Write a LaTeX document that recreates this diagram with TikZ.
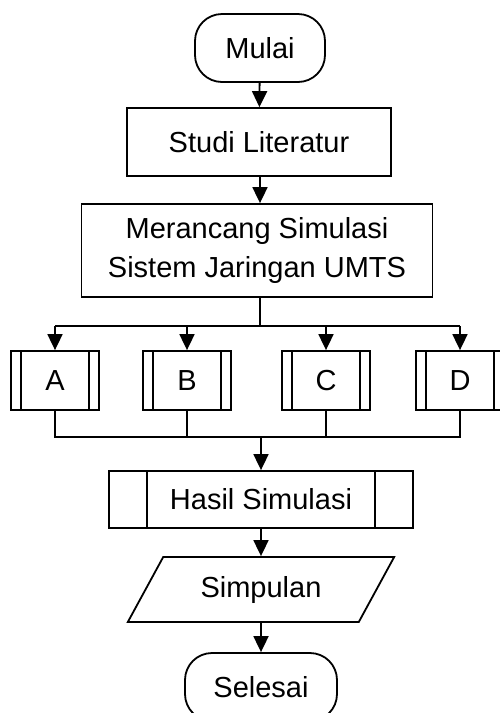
\documentclass[tikz,border=0pt]{standalone}
\usepackage{fontspec}
\setmainfont{Liberation Sans}
\usetikzlibrary{arrows.meta,shapes.geometric}
\begin{document}
\begin{tikzpicture}[x=1pt,y=-1pt,line width=1.8pt,
	every node/.style={font=\fontsize{29}{39}\selectfont,inner sep=0pt},
	terminal/.style={draw,rounded corners=27pt,minimum height=68pt},
	proses/.style={draw,align=center},
	subproses/.style={draw,path picture={
		\draw[line width=1.8pt] ([xshift=#1]path picture bounding box.north west)--([xshift=#1]path picture bounding box.south west)
			([xshift=-#1]path picture bounding box.north east)--([xshift=-#1]path picture bounding box.south east);}},
	panah/.style={-{Triangle[length=16pt,width=15pt]}}]
			\useasboundingbox (0,0) rectangle (500,713);
			\node[terminal,minimum width=130pt] (mulai) at (260,48) {Mulai};
			\node[proses,minimum width=264pt,minimum height=68pt] (studi) at (259,142) {Studi Literatur};
			\node[proses,minimum width=351pt,minimum height=93pt] (rancang) at (257,250.5) {Merancang Simulasi\\Sistem Jaringan UMTS};
			\foreach \n/\x/\t in {a/55/A,b/187/B,c/326/C,d/460/D}
				\node[subproses=10pt,minimum width=88pt,minimum height=59pt] (\n) at (\x,380.5) {\t};
			\node[subproses=38pt,minimum width=304pt,minimum height=57pt] (hasil) at (261,499.5) {Hasil Simulasi};
			\node[trapezium,trapezium left angle=51,trapezium right angle=129,trapezium stretches=true,draw,minimum width=267pt,minimum height=65pt] (simpulan) at (261,589.5) {Simpulan};
			\node[terminal,minimum width=152pt] (selesai) at (261,687) {Selesai};
			\coordinate (cabang) at (260,326);
			\coordinate (gabung) at (261,437);
			\draw[panah] (mulai) -- (studi);
			\draw[panah] (studi.south -| mulai) -- (rancang.north -| mulai);
			\draw (rancang.south -| cabang) -- (cabang);
			\draw (a.north |- cabang) -- (d.north |- cabang);
			\foreach \n in {a,b,c,d}
				\draw[panah] (\n.north |- cabang) -- (\n);
			\draw (a.south) -- (a.south |- gabung) -- (d.south |- gabung) -- (d.south);
			\draw (b.south) -- (b.south |- gabung);
			\draw (c.south) -- (c.south |- gabung);
			\draw[panah] (gabung) -- (hasil);
			\draw[panah] (hasil) -- (simpulan);
			\draw[panah] (simpulan) -- (selesai);
	\end{tikzpicture}
\end{document}
